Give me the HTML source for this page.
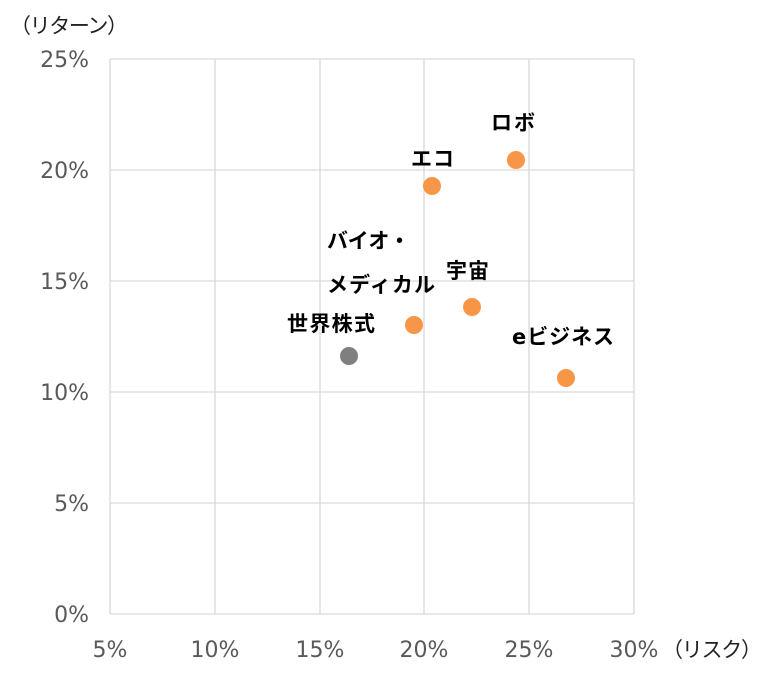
<!DOCTYPE html><html><head><meta charset="utf-8"><style>body{margin:0;background:#fff}</style></head><body>
<svg width="777" height="677" xmlns="http://www.w3.org/2000/svg" font-family="DejaVu Sans, Noto Sans CJK JP, sans-serif">
<g stroke="#d9d9d9" stroke-width="1.3">
<line x1="110" y1="59" x2="634" y2="59"/><line x1="110" y1="170" x2="634" y2="170"/><line x1="110" y1="281" x2="634" y2="281"/><line x1="110" y1="392" x2="634" y2="392"/><line x1="110" y1="503" x2="634" y2="503"/><line x1="110" y1="614" x2="634" y2="614"/>
<line x1="110" y1="59" x2="110" y2="614"/><line x1="215" y1="59" x2="215" y2="614"/><line x1="320" y1="59" x2="320" y2="614"/><line x1="424" y1="59" x2="424" y2="614"/><line x1="529" y1="59" x2="529" y2="614"/><line x1="634" y1="59" x2="634" y2="614"/>
</g>
<g fill="#595959" font-size="22" text-anchor="end">
<text x="89" y="67">25%</text><text x="89" y="178">20%</text><text x="89" y="289">15%</text><text x="89" y="400">10%</text><text x="89" y="511">5%</text><text x="89" y="622">0%</text>
</g>
<g fill="#595959" font-size="22" text-anchor="middle">
<text x="110" y="657">5%</text><text x="215" y="657">10%</text><text x="320" y="657">15%</text><text x="424" y="657">20%</text><text x="529" y="657">25%</text><text x="634" y="657">30%</text>
</g>
<text x="10" y="33" font-size="21" fill="#222" textLength="118">（リターン）</text>
<text x="662" y="657" font-size="21" fill="#222" textLength="100">（リスク）</text>
<g fill="#f79646"><circle cx="414" cy="325" r="9"/><circle cx="432" cy="186" r="9"/><circle cx="516" cy="160" r="9"/><circle cx="472" cy="307" r="9"/><circle cx="566" cy="378" r="9"/></g>
<circle cx="349" cy="356" r="9" fill="#7f7f7f"/>
<g fill="#000" font-size="21" font-weight="bold">
<text x="287" y="331" textLength="88">世界株式</text>
<text x="327" y="248" textLength="83">バイオ・</text>
<text x="327" y="292" textLength="108">メディカル</text>
<text x="446" y="278" textLength="43">宇宙</text>
<text x="411" y="166" textLength="43">エコ</text>
<text x="491" y="130" textLength="44">ロボ</text>
<text x="512" y="344" textLength="102">eビジネス</text>
</g>
</svg></body></html>
